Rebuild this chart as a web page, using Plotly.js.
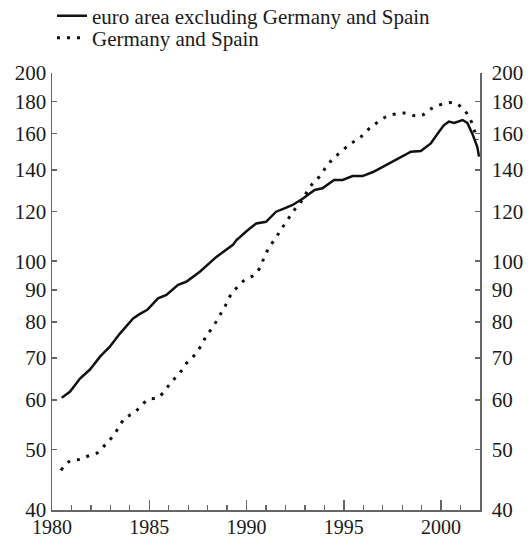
<!DOCTYPE html>
<html>
<head>
<meta charset="utf-8">
<script src="https://cdn.plot.ly/plotly-3.0.1.min.js"></script>
<style>
  html, body { margin: 0; padding: 0; background: #fff; }
  #chart { width: 529px; height: 537px; }
</style>
</head>
<body>
<div id="chart"></div>
<script>
// euro area excluding Germany and Spain (solid)
const restYears = [1980.5, 1980.92, 1981.44, 1981.95, 1982.46, 1982.97, 1983.49, 1984.17, 1984.5, 1984.9,
  1985.45, 1985.88, 1986.48, 1986.9, 1987.6, 1988.1, 1988.45, 1989.3, 1989.47, 1990.07, 1990.5, 1991.0,
  1991.52, 1991.95, 1992.37, 1992.9, 1993.5, 1993.9, 1994.5, 1994.94, 1995.45, 1995.96, 1996.5, 1997.0,
  1997.5, 1998.0, 1998.45, 1998.96, 1999.47, 1999.9, 2000.15, 2000.4, 2000.67, 2001.1, 2001.35, 2001.6,
  2001.86, 2001.95];
const restValues = [60.5, 61.8, 64.9, 67.1, 70.3, 73.0, 76.6, 81.0, 82.3, 83.6,
  87.2, 88.3, 91.7, 92.7, 96.2, 99.4, 101.6, 106.2, 108.0, 112.2, 114.9, 115.6,
  120.0, 121.5, 123.0, 126.0, 130.0, 130.8, 134.9, 134.9, 136.8, 136.8, 138.9, 141.5,
  144.2, 147.0, 149.7, 150.0, 154.3, 161.2, 165.1, 167.2, 166.4, 168.2, 166.4, 160.1,
  152.4, 147.0];

// Germany and Spain (dotted)
const geYears = [1980.46, 1980.92, 1981.44, 1981.86, 1982.3, 1982.72, 1983.06, 1983.4, 1983.74, 1984.17,
  1984.5, 1984.94, 1985.45, 1985.88, 1986.22, 1986.56, 1986.9, 1987.33, 1987.68, 1987.93, 1988.27,
  1988.6, 1988.87, 1989.13, 1989.47, 1989.9, 1990.33, 1990.67, 1990.92, 1991.18, 1991.52, 1991.78,
  1992.12, 1992.46, 1992.8, 1993.06, 1993.4, 1993.74, 1994.1, 1994.43, 1994.86, 1995.37, 1995.8,
  1996.22, 1996.65, 1997.16, 1997.67, 1998.19, 1998.7, 1999.04, 1999.38, 1999.7, 2000.24, 2000.67,
  2001.1, 2001.44, 2001.7, 2001.86];
const geValues = [46.3, 47.9, 48.2, 48.8, 49.3, 50.8, 52.2, 54.0, 56.1, 57.1,
  58.3, 60.1, 60.5, 62.6, 64.5, 66.2, 68.6, 70.8, 73.4, 75.9, 78.5,
  81.7, 84.4, 87.7, 90.5, 93.3, 94.8, 97.4, 101.7, 105.4, 109.2, 112.4,
  116.6, 120.8, 124.5, 128.4, 133.2, 136.5, 141.6, 145.6, 149.7, 154.3, 157.2,
  162.1, 166.1, 170.2, 172.0, 172.5, 170.7, 171.3, 174.5, 176.7, 178.9, 179.3,
  175.6, 170.2, 162.1, 156.3];

const yTicks = [40, 50, 60, 70, 80, 90, 100, 120, 140, 160, 180, 200];
const xTicks = [1980, 1985, 1990, 1995, 2000];

const serif = 'Liberation Serif, Times New Roman, serif';
const textColor = '#1a1a1a';
const axisColor = '#666';
const fontSize = 21;

const traces = [
  {
    x: restYears, y: restValues, type: 'scatter', mode: 'lines',
    name: 'euro area excluding Germany and Spain',
    legend: 'legend',
    line: { color: '#111', width: 2.5 }
  },
  {
    x: geYears, y: geValues, type: 'scatter', mode: 'lines',
    name: 'Germany and Spain',
    legend: 'legend2',
    line: { color: '#111', width: 3, dash: '3px,7px', shape: 'spline' }
  },
  {
    // invisible copy so the right-hand axis gets drawn
    x: restYears, y: restValues, type: 'scatter', mode: 'lines',
    yaxis: 'y2', showlegend: false, hoverinfo: 'skip',
    line: { color: 'rgba(0,0,0,0)', width: 0 }
  }
];

const yAxisBase = {
  type: 'log',
  range: [Math.log10(40), Math.log10(200)],
  tickvals: yTicks,
  ticktext: yTicks.map(String),
  ticks: 'inside',
  ticklen: 5,
  tickwidth: 1.5,
  tickcolor: axisColor,
  showline: true,
  linecolor: axisColor,
  linewidth: 1.5,
  showgrid: false,
  zeroline: false,
  tickfont: { family: serif, size: fontSize, color: textColor }
};

const legendBase = {
  xanchor: 'left', yanchor: 'middle',
  font: { family: serif, size: fontSize, color: textColor },
  bgcolor: 'rgba(0,0,0,0)',
  itemwidth: 30
};

const layout = {
  width: 529,
  height: 537,
  margin: { l: 52, r: 49, t: 73, b: 27, autoexpand: false },
  font: { family: serif, size: fontSize, color: textColor },
  paper_bgcolor: '#fff',
  plot_bgcolor: '#fff',
  showlegend: true,
  legend: Object.assign({}, legendBase, { x: 0.0, y: 1.13 }),
  legend2: Object.assign({}, legendBase, { x: 0.0, y: 1.08 }),
  xaxis: {
    range: [1980, 2002],
    tickvals: xTicks,
    ticktext: xTicks.map(String),
    ticks: 'inside',
    ticklen: 10,
    tickwidth: 1.5,
    tickcolor: axisColor,
    ticklabelstandoff: -2,
    minor: { dtick: 1, tick0: 1980, ticks: 'inside', ticklen: 5, tickwidth: 1.2, tickcolor: axisColor, showgrid: false },
    showline: true,
    linecolor: axisColor,
    linewidth: 1.5,
    showgrid: false,
    zeroline: false,
    tickfont: { family: serif, size: 20, color: textColor }
  },
  yaxis: Object.assign({}, yAxisBase, { side: 'left' }),
  yaxis2: Object.assign({}, yAxisBase, { side: 'right', overlaying: 'y', anchor: 'x', ticklabelstandoff: 6 })
};

Plotly.newPlot('chart', traces, layout, { displayModeBar: false, staticPlot: true });
</script>
</body>
</html>
